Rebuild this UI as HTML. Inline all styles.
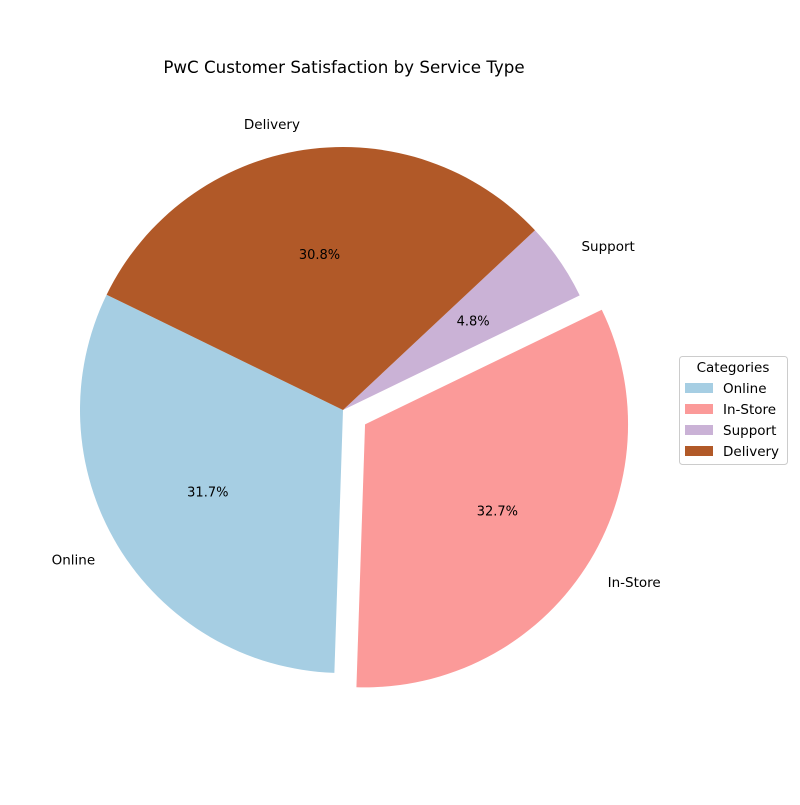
<!DOCTYPE html>
<html><head><meta charset="utf-8">
<style>
html,body{margin:0;padding:0;background:#fff;}
svg text{font-family:"DejaVu Sans","Liberation Sans",sans-serif;}
</style></head>
<body>
<svg id="chart" width="800" height="800" xmlns="http://www.w3.org/2000/svg">
<rect width="800" height="800" fill="#fff"/>
<text x="344" y="73" font-size="16.7" text-anchor="middle">PwC Customer Satisfaction by Service Type</text>
<g id="slices"></g>
<g id="labels"></g>
<g>
<rect x="679.5" y="356.5" width="108" height="108" rx="3" fill="#fff" stroke="#ccc"/>
<text x="733" y="372" font-size="13.5" text-anchor="middle">Categories</text>
<g id="legend-entries"></g>
</g>
</svg>
<script>
const categories = ["Online", "In-Store", "Support", "Delivery"];
const values = [31.7, 32.7, 4.8, 30.8];
const colors = ["#a6cee3", "#fb9a99", "#cab2d6", "#b15928"];
const explode = [0, 0.1, 0, 0];

const cx = 343, cy = 410, R = 263, startAngle = 154;
const NS = "http://www.w3.org/2000/svg";
const total = values.reduce((a, b) => a + b, 0);
const slicesG = document.getElementById("slices");
const labelsG = document.getElementById("labels");
const legendG = document.getElementById("legend-entries");
function pt(x0, y0, r, deg) { const a = deg * Math.PI / 180; return [x0 + r * Math.cos(a), y0 - r * Math.sin(a)]; }
let ang = startAngle;
values.forEach((v, i) => {
  const sweep = v / total * 360;
  const mid = ang + sweep / 2;
  const [ox, oy] = pt(0, 0, explode[i] * R, mid);
  const x0 = cx + ox, y0 = cy + oy;
  const [x1, y1] = pt(x0, y0, R, ang);
  const [x2, y2] = pt(x0, y0, R, ang + sweep);
  const p = document.createElementNS(NS, "path");
  p.setAttribute("d", `M${x0},${y0} L${x1},${y1} A${R},${R} 0 ${sweep > 180 ? 1 : 0} 0 ${x2},${y2} Z`);
  p.setAttribute("fill", colors[i]);
  
  
  slicesG.appendChild(p);
  const [lx, ly] = pt(x0, y0, 1.1 * R, mid);
  const t = document.createElementNS(NS, "text");
  t.setAttribute("x", lx); t.setAttribute("y", ly + 5);
  t.setAttribute("font-size", "13.5");
  t.setAttribute("text-anchor", Math.cos(mid * Math.PI / 180) < 0 ? "end" : "start");
  t.textContent = categories[i];
  
  
  labelsG.appendChild(t);
  const [px, py] = pt(x0, y0, 0.6 * R, mid);
  const pc = document.createElementNS(NS, "text");
  pc.setAttribute("x", px); pc.setAttribute("y", py + 5);
  pc.setAttribute("font-size", "13");
  pc.setAttribute("text-anchor", "middle");
  pc.textContent = (v / total * 100).toFixed(1) + "%";
  
  
  labelsG.appendChild(pc);
  const ey = 388 + i * 21;
  const sw = document.createElementNS(NS, "rect");
  sw.setAttribute("x", 685); sw.setAttribute("y", ey - 5);
  sw.setAttribute("width", 28); sw.setAttribute("height", 10);
  sw.setAttribute("fill", colors[i]);
  
  
  legendG.appendChild(sw);
  const lt = document.createElementNS(NS, "text");
  lt.setAttribute("x", 723); lt.setAttribute("y", ey + 5);
  lt.setAttribute("font-size", "13.5");
  lt.textContent = categories[i];
  
  
  legendG.appendChild(lt);
  ang += sweep;
});
</script>
</body></html>
